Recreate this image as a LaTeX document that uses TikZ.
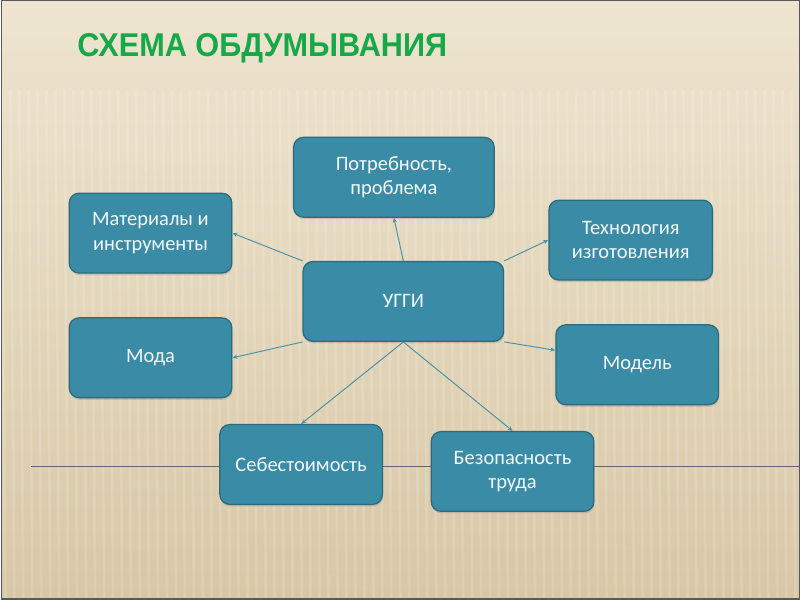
\documentclass[tikz,border=0pt]{standalone}
\usepackage{fontspec}
\setmainfont{Carlito}
\newfontfamily\titlefont[FakeStretch=0.93]{Liberation Sans}
\usetikzlibrary{arrows.meta,shadows}

\definecolor{boxfill}{HTML}{3A8CA6}
\definecolor{boxline}{HTML}{2C6B7E}
\definecolor{linkcol}{HTML}{4D93A6}
\definecolor{titlegreen}{HTML}{17A84A}
\definecolor{bgtop}{HTML}{EEE5D0}
\definecolor{bgbottom}{HTML}{D8C7A6}

\tikzset{
    idea/.style={draw=boxline, line width=0.9pt, fill=boxfill, rounded corners=7pt,
        text=white!94!boxfill, align=center, font=\fontsize{14.6}{17.5}\selectfont,
        minimum width=4.075cm, minimum height=2cm, inner sep=2pt,
        drop shadow={shadow xshift=0.5pt, shadow yshift=-1.5pt, opacity=0.3}},
    link/.style={draw=linkcol, line width=0.7pt, -{Stealth[length=3.5pt,width=3pt]}}
}

\begin{document}
\begin{tikzpicture}[x=0.025cm, y=-0.025cm]

    % background
    \shade[top color=bgtop, bottom color=bgbottom] (0,0) rectangle (800,600);
    \foreach \s in {0,9,...,800}
        \draw[white, opacity=0.14, line width=2pt] (\s,90) -- (\s+4,600);
    \draw[gray!70!black, line width=1pt] (0,0) rectangle (800,600);
    \draw[gray!80!black, line width=0.6pt] (30,467) -- (800,467);

    % title
    \node[anchor=west, inner sep=0pt, text=titlegreen, font=\titlefont\bfseries\fontsize{23.5}{27}\selectfont]
        (title) at (76,48) {СХЕМА ОБДУМЫВАНИЯ};

    % boxes
    \node[idea, minimum width=5.025cm] (ugi) at (403,301.5) {УГГИ};
    \node[idea, minimum width=5.025cm] (need) at (393.5,177) {Потребность,\\проблема};
    \node[idea] (mat) at (149.5,233) {Материалы и\\инструменты};
    \node[idea, minimum width=4.1cm] (tech) at (631,240) {Технология\\изготовления};
    \node[idea] (mode) at (149.5,358) {Мода};
    \node[idea] (model) at (637.5,365) {Модель};
    \node[idea] (cost) at (300.5,465) {Себестоимость};
    \node[idea] (safe) at (512.5,472) {Безопасность\\труда};

    % links
    \draw[link] (ugi.north) -- (need.south);
    \draw[link] (ugi.north west) -- (mat.east);
    \draw[link] (ugi.north east) -- (tech.west);
    \draw[link] (ugi.south west) -- (mode.east);
    \draw[link] (ugi.south east) -- (model.170);
    \draw[link] (ugi.south) -- (cost.north);
    \draw[link] (ugi.south) -- (safe.north);

\end{tikzpicture}
\end{document}
